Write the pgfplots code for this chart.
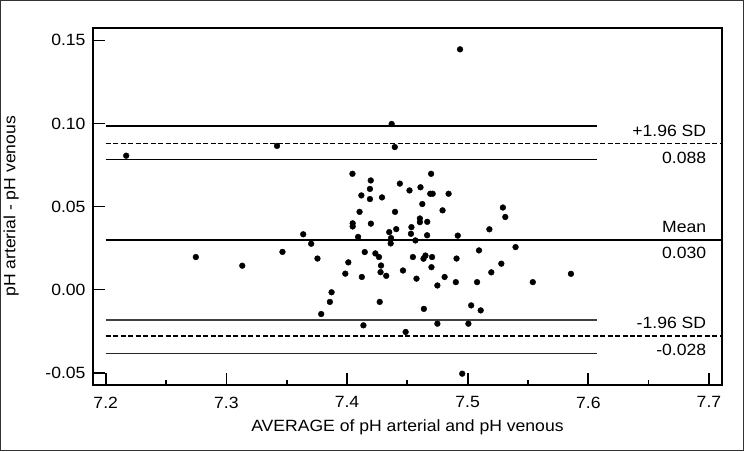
\documentclass[border=0pt]{standalone}
\usepackage{fontspec}
\setmainfont{Liberation Sans}[FakeStretch=1.08]
\usepackage{pgfplots}
\pgfplotsset{compat=1.18}
\begin{document}
\begin{tikzpicture}
  \begin{axis}[
      scale only axis,
      width=630.4bp, height=357.7bp,
      xmin=7.1892, xmax=7.711,
      ymin=-0.0574, ymax=0.1576,
      font=\fontsize{16.3bp}{18bp}\selectfont,
      axis line style={line width=2bp},
      tick align=inside,
      xtick pos=bottom, ytick pos=left,
      major tick length=12bp,
      minor tick length=5bp,
      tick style={black, line width=1.7bp},
      xtick={7.2,7.3,7.4,7.5,7.6,7.7},
      xticklabels={7.2,7.3,7.4,7.5,7.6,7.7},
      minor xtick={7.25,7.35,7.45,7.55,7.65},
      ytick={-0.05,0,0.05,0.10,0.15},
      yticklabels={-0.05,0.00,0.05,0.10,0.15},
      xticklabel style={inner sep=0pt, yshift=-11.5bp},
      yticklabel style={inner sep=0pt, xshift=-7bp},
      xlabel={AVERAGE of pH arterial and pH venous},
      ylabel={pH arterial - pH venous},
      every axis x label/.style={at={(axis description cs:0.5,0)}, anchor=base, yshift=-46.7bp},
      every axis y label/.style={at={(axis description cs:0,0.5)}, xshift=-81.5bp, rotate=90, anchor=center},
    ]
    % limits of agreement and their confidence intervals
    \addplot[black, line width=1.6bp] coordinates {(7.2,0.0985) (7.607,0.0985)};
    \addplot[black, line width=1.6bp] coordinates {(7.2,0.0783) (7.607,0.0783)};
    \addplot[black, line width=1.7bp, dash pattern=on 5bp off 2.5bp] coordinates {(7.2,0.088) (7.711,0.088)};
    \addplot[black, line width=2.4bp] coordinates {(7.2,0.030) (7.711,0.030)};
    \addplot[black!75, line width=1.2bp] coordinates {(7.2,-0.0183) (7.607,-0.0183)};
    \addplot[black!85, line width=1.2bp] coordinates {(7.2,-0.0386) (7.607,-0.0386)};
    \addplot[black, line width=1.7bp, dash pattern=on 5bp off 2.5bp] coordinates {(7.2,-0.028) (7.711,-0.028)};
    % differences
    \addplot[only marks, mark=*, mark size=2.9bp, black] coordinates {
      (7.2170,0.0806) (7.3420,0.0865) (7.4370,0.0997) (7.4396,0.0858)
      (7.4937,0.1446) (7.4045,0.0697) (7.4197,0.0657) (7.4697,0.0697)
      (7.4438,0.0638) (7.4190,0.0606) (7.4518,0.0597) (7.4609,0.0616)
      (7.4119,0.0567) (7.4190,0.0545) (7.4290,0.0555) (7.4690,0.0577)
      (7.4710,0.0577) (7.4842,0.0577) (7.4624,0.0515) (7.4104,0.0468)
      (7.4398,0.0468) (7.4792,0.0477) (7.5292,0.0494) (7.5312,0.0437)
      (7.4047,0.0399) (7.4047,0.0380) (7.4198,0.0397) (7.4604,0.0428)
      (7.4604,0.0406) (7.4665,0.0408) (7.4534,0.0376) (7.4408,0.0364)
      (7.4350,0.0346) (7.4530,0.0336) (7.5180,0.0363) (7.3637,0.0333)
      (7.4092,0.0317) (7.4365,0.0310) (7.4664,0.0327) (7.4918,0.0325)
      (7.4567,0.0296) (7.3703,0.0276) (7.4362,0.0278) (7.5397,0.0256)
      (7.5094,0.0236) (7.3465,0.0227) (7.4147,0.0226) (7.4235,0.0218)
      (7.2747,0.0196) (7.4265,0.0196) (7.4546,0.0196) (7.4650,0.0205)
      (7.4634,0.0186) (7.4705,0.0196) (7.3755,0.0187) (7.4908,0.0187)
      (7.4011,0.0164) (7.3132,0.0144) (7.4282,0.0145) (7.4700,0.0135)
      (7.5279,0.0156) (7.4464,0.0115) (7.3986,0.0096) (7.4278,0.0105)
      (7.4325,0.0083) (7.5196,0.0104) (7.5856,0.0095) (7.4123,0.0076)
      (7.4576,0.0066) (7.4809,0.0076) (7.4749,0.0025) (7.4902,0.0045)
      (7.5078,0.0045) (7.5540,0.0045) (7.3872,-0.0016) (7.3858,-0.0074)
      (7.4271,-0.0074) (7.3786,-0.0147) (7.5029,-0.0095) (7.4637,-0.0116)
      (7.5108,-0.0125) (7.4136,-0.0215) (7.4749,-0.0205) (7.5006,-0.0205)
      (7.4486,-0.0255) (7.4955,-0.0506)
    };
    % line labels
    \node[anchor=base east, inner sep=0pt, yshift=7.3bp] at (axis cs:7.6978,0.088) {+1.96 SD};
    \node[anchor=base east, inner sep=0pt, yshift=-20bp] at (axis cs:7.6978,0.088) {0.088};
    \node[anchor=base east, inner sep=0pt, yshift=7.6bp] at (axis cs:7.6978,0.030) {Mean};
    \node[anchor=base east, inner sep=0pt, yshift=-19bp] at (axis cs:7.6978,0.030) {0.030};
    \node[anchor=base east, inner sep=0pt, yshift=7.3bp] at (axis cs:7.6978,-0.028) {-1.96 SD};
    \node[anchor=base east, inner sep=0pt, yshift=-19.4bp] at (axis cs:7.6978,-0.028) {-0.028};
  \end{axis}
  % outer border of the figure
  \draw[black!80, line width=1bp] (-92.3bp,-66bp) rectangle (651.7bp,385bp);
\end{tikzpicture}
\end{document}
